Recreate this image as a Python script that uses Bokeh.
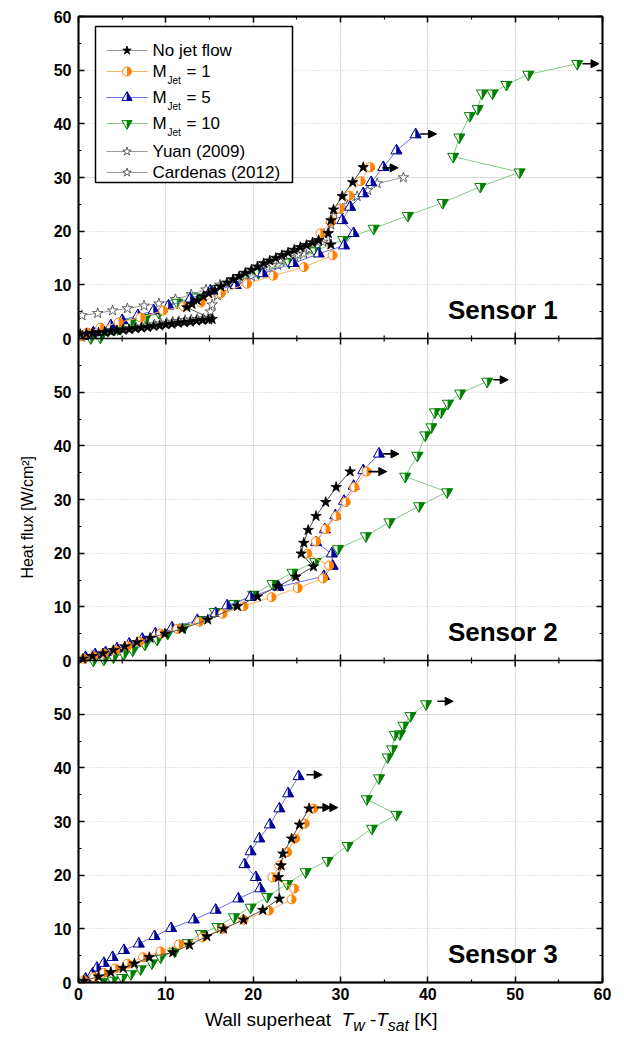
import numpy as np
from bokeh.plotting import figure
from bokeh.layouts import column
from bokeh.models import (Range1d, LinearAxis, FixedTicker, Grid, Label, Arrow, NormalHead,
                          CustomJSTickFormatter, ColumnDataSource, Span, Div)
from bokeh.transform import dodge
from bokeh.embed import file_html
from bokeh.resources import INLINE
from bokeh.core.properties import value

# ---------------- data ----------------
X_TICKS = [0, 10, 20, 30, 40, 50, 60]
X_MINOR = [5, 15, 25, 35, 45, 55]
PANEL_Y_TICKS = [0, 10, 20, 30, 40, 50]
TOP_Y_TICK = 60

SERIES_NAMES = ["No jet flow", "M_Jet = 1", "M_Jet = 5", "M_Jet = 10", "Yuan (2009)", "Cardenas (2012)"]
SENSOR_NAMES = ["Sensor 1", "Sensor 2", "Sensor 3"]

# Sensor 1
S1_NOJET_X = [0.2, 0.9, 1.6, 2.3, 3.0, 3.7, 4.4, 5.1, 5.8, 6.5, 7.2, 7.9, 8.6, 9.3, 10.0, 10.7, 11.4, 12.1,
              12.8, 13.5, 14.2, 14.9, 15.3, 12.4, 13.0, 13.6, 14.3, 14.9, 15.6, 16.3, 17.0, 17.7, 18.4, 19.1,
              19.8, 20.5, 21.2, 21.9, 22.6, 23.3, 24.0, 24.7, 25.4, 26.1, 26.8, 27.5, 28.9, 28.6, 28.9, 29.2,
              30.2, 31.4, 32.6]
S1_NOJET_Y = [0.8, 0.9, 1.0, 1.1, 1.2, 1.3, 1.5, 1.6, 1.7, 1.9, 2.0, 2.1, 2.3, 2.4, 2.6, 2.7, 2.9, 3.0,
              3.1, 3.3, 3.4, 3.5, 3.6, 5.8, 6.4, 7.1, 7.8, 8.4, 9.0, 9.7, 10.4, 11.0, 11.6, 12.2,
              12.8, 13.4, 14.0, 14.5, 15.0, 15.5, 16.0, 16.5, 17.0, 17.4, 17.9, 18.3, 17.5, 19.6, 22.0, 24.0,
              26.5, 29.1, 31.9]
S1_M1_X = [0.3, 1.0, 2.5, 4.6, 7.1, 9.7, 12.0, 14.0, 16.3, 19.3, 22.3, 25.8, 29.1, 27.7, 28.9, 29.9, 31.0, 32.3, 33.4]
S1_M1_Y = [0.4, 1.1, 2.0, 3.0, 3.9, 5.2, 6.0, 6.7, 8.4, 10.2, 11.7, 13.3, 15.5, 19.6, 21.8, 24.2, 26.6, 29.3, 31.9]
S1_M5_X = [0.5, 1.7, 3.7, 5.0, 6.8, 8.6, 10.3, 12.8, 15.1, 18.0, 21.1, 24.6, 27.5, 30.4, 31.5, 30.2, 31.1, 32.6,
           33.5, 34.9, 36.4, 38.6]
S1_M5_Y = [0.4, 1.1, 2.4, 3.4, 4.3, 5.2, 6.1, 7.4, 8.9, 9.9, 12.1, 14.0, 15.8, 17.3, 19.6, 22.0, 24.5, 27.0,
           29.1, 31.9, 35.0, 38.0]
S1_M10_X = [1.4, 2.5, 4.5, 6.0, 7.7, 9.2, 11.3, 13.6, 15.9, 20.6, 24.1, 27.1, 30.3, 33.8, 37.7, 41.7, 46.0, 50.5,
            42.9, 43.6, 44.8, 45.7, 46.2, 47.4, 49.0, 51.5, 57.1]
S1_M10_Y = [0.1, 0.2, 1.8, 3.0, 3.9, 4.8, 6.7, 7.7, 9.3, 12.2, 14.2, 16.3, 18.4, 20.5, 22.9, 25.3, 28.3, 31.0,
            33.9, 37.5, 41.5, 42.8, 45.7, 45.7, 47.3, 49.2, 51.2]
S1_YUAN_X = [0.4, 2.2, 3.9, 5.6, 7.5, 9.2, 11.1, 12.9, 14.6, 16.2, 17.7, 19.2, 20.7, 22.2, 23.7, 25.1, 26.4, 27.4,
             28.1, 28.9, 29.8, 30.8, 31.9, 33.1, 34.2, 37.2]
S1_YUAN_Y = [4.3, 4.7, 5.2, 5.6, 6.1, 6.5, 7.3, 8.2, 9.1, 10.0, 10.9, 11.8, 12.7, 13.6, 14.6, 15.6, 16.6, 18.0,
             19.5, 21.2, 23.0, 24.8, 26.5, 27.6, 28.9, 30.0]
S1_CARD_X = [0.3, 1.0, 1.7, 2.4, 3.1, 3.8, 4.5, 5.2, 5.9, 6.6, 7.3, 8.0, 8.7, 9.4, 10.1, 10.8, 11.5, 12.2, 12.9,
             13.6, 14.3, 15.0, 15.1, 15.3, 15.9, 16.8, 17.8, 18.8, 19.8, 20.8, 21.8, 22.8, 23.8, 24.8, 25.8,
             26.6, 27.3, 28.0]
S1_CARD_Y = [0.3, 0.5, 0.7, 0.9, 1.1, 1.3, 1.5, 1.7, 1.9, 2.0, 2.2, 2.4, 2.6, 2.8, 2.9, 3.1, 3.2, 3.4, 3.5,
             3.6, 3.7, 3.8, 5.0, 6.3, 8.0, 9.4, 10.2, 10.9, 11.6, 12.3, 13.0, 13.7, 14.4, 15.1, 15.8,
             16.5, 17.2, 18.0]

# Sensor 2
S2_NOJET_X = [0.5, 1.6, 2.8, 4.0, 5.3, 6.7, 8.2, 9.9, 11.9, 14.8, 18.2, 20.5, 22.8, 24.9, 26.9, 25.5, 25.8, 26.3,
              27.2, 28.3, 29.5, 31.1]
S2_NOJET_Y = [0.3, 0.8, 1.3, 1.9, 2.6, 3.4, 4.2, 5.0, 5.9, 7.6, 10.1, 11.9, 13.8, 15.6, 17.5, 19.9, 21.9, 24.3,
              26.9, 29.5, 32.3, 35.2]
S2_M1_X = [0.6, 1.7, 2.9, 4.2, 5.6, 7.0, 9.4, 11.3, 13.8, 16.5, 18.9, 22.1, 25.1, 28.0, 28.7, 26.2, 27.2, 28.3,
           29.5, 30.6, 31.6, 33.0]
S2_M1_Y = [0.3, 0.8, 1.3, 1.9, 2.7, 3.5, 5.0, 5.9, 7.2, 8.7, 10.1, 11.8, 13.5, 15.3, 17.7, 19.9, 22.2, 24.5,
           26.9, 29.5, 32.3, 35.2]
S2_M5_X = [0.8, 1.9, 3.1, 4.4, 5.8, 7.3, 8.8, 10.7, 13.6, 15.7, 17.0, 19.7, 22.9, 28.1, 29.1, 29.0, 27.2, 28.2,
           29.4, 30.4, 31.5, 32.6, 34.4]
S2_M5_Y = [0.6, 1.1, 1.5, 2.2, 3.1, 4.0, 5.0, 6.1, 7.5, 8.8, 10.2, 11.8, 13.7, 15.7, 17.6, 19.9, 22.0, 24.4,
           27.0, 29.7, 32.5, 35.4, 38.5]
S2_M10_X = [1.7, 2.9, 4.0, 5.2, 6.2, 7.6, 9.0, 10.2, 12.1, 14.0, 15.6, 17.8, 20.0, 22.2, 24.5, 27.1, 29.7, 32.9,
            35.6, 39.0, 42.2, 37.4, 38.8, 39.7, 40.4, 40.8, 41.5, 42.3, 43.7, 46.8]
S2_M10_Y = [0.0, 0.2, 0.6, 1.2, 1.9, 3.0, 3.9, 5.0, 6.2, 7.6, 9.1, 10.6, 12.3, 14.3, 16.4, 18.4, 20.8, 23.2,
            25.8, 28.8, 31.4, 34.3, 38.2, 42.0, 43.5, 46.3, 46.3, 47.9, 49.8, 52.0]

# Sensor 3
S3_NOJET_X = [0.6, 2.3, 3.7, 5.1, 6.4, 8.1, 10.8, 12.7, 14.7, 16.6, 18.9, 21.1, 23.0, 22.9, 23.2, 23.4, 24.4, 25.3, 26.4]
S3_NOJET_Y = [0.3, 1.1, 1.9, 2.7, 3.5, 4.7, 5.6, 7.0, 8.6, 10.0, 11.7, 13.5, 15.6, 19.6, 21.8, 24.0, 26.8, 29.4, 32.4]
S3_M1_X = [0.6, 1.8, 2.9, 4.2, 5.6, 7.4, 9.4, 11.5, 14.2, 16.5, 18.9, 21.8, 24.4, 24.7, 22.2, 23.0, 23.9, 24.8, 25.9, 26.9]
S3_M1_Y = [0.4, 1.0, 1.8, 2.6, 3.5, 4.7, 5.8, 7.1, 8.4, 10.0, 11.7, 13.4, 15.5, 17.5, 19.6, 21.8, 24.3, 26.8, 29.6, 32.4]
S3_M5_X = [0.8, 1.6, 2.1, 2.9, 3.9, 5.2, 6.9, 8.7, 10.6, 13.2, 15.7, 18.3, 20.8, 20.3, 19.0, 19.7, 20.7, 21.9,
           23.0, 24.0, 25.2]
S3_M5_Y = [0.7, 1.6, 2.7, 3.6, 4.7, 6.0, 7.2, 8.6, 10.1, 11.7, 13.5, 15.6, 17.5, 19.6, 22.0, 24.4, 26.8, 29.4,
           32.4, 35.2, 38.4]
S3_M10_X = [1.6, 2.7, 3.9, 5.0, 6.0, 7.1, 8.4, 9.4, 11.0, 12.5, 14.0, 15.9, 17.8, 19.7, 21.6, 23.9, 26.0, 28.5,
            30.8, 33.6, 36.4, 33.0, 34.4, 35.4, 35.9, 36.2, 36.8, 37.2, 38.0, 39.8]
S3_M10_Y = [0.0, 0.1, 0.4, 0.9, 1.6, 2.5, 3.6, 4.7, 5.8, 7.4, 9.1, 10.4, 12.2, 14.0, 16.0, 18.4, 20.6, 22.7,
            25.5, 28.7, 31.3, 34.2, 38.1, 42.0, 43.5, 46.2, 46.3, 47.9, 49.7, 51.9]

# CHF arrows: (x start, x end, heat flux)
S1_ARROWS = [(34.8, 36.6, 31.8), (39.1, 41.0, 38.1), (57.7, 59.6, 51.2)]
S2_ARROWS = [(33.2, 35.3, 35.2), (34.9, 36.7, 38.5), (47.5, 49.2, 52.3)]
S3_ARROWS = [(27.3, 28.9, 32.6), (27.3, 29.7, 32.6), (26.1, 27.9, 38.7), (41.1, 42.9, 52.4)]

# ---------------- styles ----------------
FONT = "Liberation Sans"
FW, FH = 524, 966
PANEL_SPAN = 60                       # each sensor panel spans 0..60 W/cm2
OFFSETS = [2 * PANEL_SPAN, PANEL_SPAN, 0]   # stacking offsets for sensors 1, 2, 3
KX, KY = 60.0 / FW, 3 * PANEL_SPAN / FH     # data units per pixel

C_BLACK, L_BLACK = "#000000", "#505050"
C_OR, L_OR = "#FF8000", "#FFB060"
C_BL, L_BL = "#00009A", "#6A6AF0"
C_GR, L_GR = "#008000", "#86C886"
C_LIT, L_LIT = "#3A3A3A", "#9A9A9A"
GRID_COLOR = "#cfcfcf"

p = figure(frame_width=FW, frame_height=FH, x_range=Range1d(0, 60), y_range=Range1d(0, 3 * PANEL_SPAN),
           output_backend="svg", toolbar_location=None, x_axis_location=None, y_axis_location=None,
           min_border_left=78, min_border_right=14, min_border_top=16, min_border_bottom=4)
p.outline_line_color = "black"
p.outline_line_width = 1.5
p.background_fill_color = "white"
p.border_fill_color = "white"

# ---- axes ----
all_y_major, all_y_minor, y_labels, y_grid = [], [], {}, []
for off in OFFSETS[::-1]:
    for t in PANEL_Y_TICKS:
        all_y_major.append(off + t)
        y_labels[off + t] = str(t)
        all_y_minor.append(off + t + 5)
        if t > 0:
            y_grid.append(off + t)
all_y_major.append(OFFSETS[0] + TOP_Y_TICK)
y_labels[OFFSETS[0] + TOP_Y_TICK] = str(TOP_Y_TICK)

xt = FixedTicker(ticks=X_TICKS, minor_ticks=X_MINOR)
yt = FixedTicker(ticks=all_y_major, minor_ticks=all_y_minor)


def style_axis(ax, labels):
    ax.axis_line_width = 1.8
    ax.axis_line_color = "black"
    ax.major_tick_line_color = "black"
    ax.minor_tick_line_color = "black"
    ax.major_tick_in = 6
    ax.major_tick_out = 0
    ax.minor_tick_in = 3
    ax.minor_tick_out = 0
    ax.major_tick_line_width = 1.5
    ax.minor_tick_line_width = 1.2
    if labels:
        ax.major_label_text_font = FONT
        ax.major_label_text_font_style = "bold"
        ax.major_label_text_font_size = "16px"
        ax.major_label_text_color = "black"
        ax.major_label_standoff = 7
    else:
        ax.formatter = CustomJSTickFormatter(code="return ''")
        ax.major_label_text_font_size = "0px"
        ax.major_label_standoff = 0


left = LinearAxis(ticker=yt, major_label_overrides=y_labels)
style_axis(left, True)
left.axis_label = "Heat flux [W/cm\u00b2]" + "\u00a0" * 8
left.axis_label_text_font = FONT
left.axis_label_text_font_style = "normal"
left.axis_label_text_font_size = "16px"
left.axis_label_text_color = "black"
left.axis_label_standoff = 15
p.add_layout(left, "left")
right = LinearAxis(ticker=yt)
style_axis(right, False)
p.add_layout(right, "right")
above = LinearAxis(ticker=xt)
style_axis(above, False)
p.add_layout(above, "above")
below = LinearAxis(ticker=xt)
style_axis(below, True)
below.major_label_standoff = 5
p.add_layout(below, "below")

p.add_layout(Grid(dimension=0, ticker=FixedTicker(ticks=X_TICKS[1:-1]), grid_line_color=GRID_COLOR,
                  grid_line_dash="1 2", grid_line_width=1))
p.add_layout(Grid(dimension=1, ticker=FixedTicker(ticks=y_grid), grid_line_color=GRID_COLOR,
                  grid_line_dash="1 2", grid_line_width=1))

# panel separators with inward ticks on both sides
for off in OFFSETS[:2]:
    p.add_layout(Span(location=off, dimension="width", line_color="black", line_width=1.5))
    p.segment(x0=X_TICKS[1:-1], x1=X_TICKS[1:-1], y0=[off - 6 * KY] * 5, y1=[off + 6 * KY] * 5,
              line_color="black", line_width=1.5)
    p.segment(x0=X_MINOR, x1=X_MINOR, y0=[off - 3 * KY] * 6, y1=[off + 3 * KY] * 6,
              line_color="black", line_width=1.2)


# ---- glyph helpers ----
def half_marker(src, xs, ys, off, kind, color, size):
    if kind == "circle":
        p.scatter(x="x", y=dodge("y", off), source=src, marker="circle", size=size, fill_color="white",
                  line_color=color, line_width=1)
        p.wedge(x="x", y=dodge("y", off), source=src, radius=size / 2.0, radius_units="screen",
                start_angle=-np.pi / 2, end_angle=np.pi / 2, fill_color=color, line_color=None)
        return
    r = size / 2.0
    a = r * np.sqrt(3) / 3.0
    sgn = 1 if kind == "up" else -1
    full_x, full_y, half_x, half_y = [], [], [], []
    for x, y in zip(xs, ys):
        apex = y + off + sgn * 2 * a * KY
        base = y + off - sgn * a * KY
        full_x.append([x - r * KX, x + r * KX, x])
        full_y.append([base, base, apex])
        half_x.append([x, x + r * KX, x])
        half_y.append([apex, base, base])
    p.patches(full_x, full_y, fill_color="white", line_color=color, line_width=1)
    p.patches(half_x, half_y, fill_color=color, line_color=color, line_width=0.6)


def markers(xs, ys, off, kind, mcolor, size):
    src = ColumnDataSource(dict(x=list(xs), y=list(ys)))
    if kind in ("star", "ostar"):
        fill = mcolor if kind == "star" else "white"
        p.scatter(x="x", y=dodge("y", off), source=src, marker="star", size=size, fill_color=fill,
                  line_color=mcolor, line_width=0.8)
    else:
        half_marker(src, xs, ys, off, kind, mcolor, size)


def series(xs, ys, off, kind, mcolor, lcolor, size):
    src = ColumnDataSource(dict(x=xs, y=ys))
    p.line(x="x", y=dodge("y", off), source=src, line_color=lcolor, line_width=1)
    markers(xs, ys, off, kind, mcolor, size)


def add_arrows(arrows, off):
    for x0, x1, y in arrows:
        p.add_layout(Arrow(end=NormalHead(size=8, fill_color="black", line_color="black", line_width=1),
                           x_start=x0, y_start=y + off, x_end=x1, y_end=y + off,
                           line_color="black", line_width=1.6))


def draw_sensor(data, arrows, name, off):
    (nx, ny), (ax_, ay), (bx, by), (gx, gy) = data
    series(gx, gy, off, "down", C_GR, L_GR, 11)
    series(bx, by, off, "up", C_BL, L_BL, 11)
    series(ax_, ay, off, "circle", C_OR, L_OR, 9)
    series(nx, ny, off, "star", C_BLACK, L_BLACK, 11)
    add_arrows(arrows, off)
    p.add_layout(Label(x=42.3, y=off + 5.4, text=name, text_font=FONT, text_font_style="bold",
                       text_font_size="26px", text_color="black", text_baseline="alphabetic"))


# ---- sensor 1 ----
o1 = OFFSETS[0]
series(S1_CARD_X, S1_CARD_Y, o1, "ostar", C_LIT, L_LIT, 11)
series(S1_YUAN_X, S1_YUAN_Y, o1, "ostar", C_LIT, L_LIT, 11)
draw_sensor([(S1_NOJET_X, S1_NOJET_Y), (S1_M1_X, S1_M1_Y), (S1_M5_X, S1_M5_Y), (S1_M10_X, S1_M10_Y)],
            S1_ARROWS, SENSOR_NAMES[0], o1)
# ---- sensor 2 ----
draw_sensor([(S2_NOJET_X, S2_NOJET_Y), (S2_M1_X, S2_M1_Y), (S2_M5_X, S2_M5_Y), (S2_M10_X, S2_M10_Y)],
            S2_ARROWS, SENSOR_NAMES[1], OFFSETS[1])
# ---- sensor 3 ----
draw_sensor([(S3_NOJET_X, S3_NOJET_Y), (S3_M1_X, S3_M1_Y), (S3_M5_X, S3_M5_Y), (S3_M10_X, S3_M10_Y)],
            S3_ARROWS, SENSOR_NAMES[2], OFFSETS[2])


# ---- legend (inside sensor-1 panel, laid out in pixels from the frame's top-left) ----
def px2x(px):
    return px * KX


def py2y(py):
    return 3 * PANEL_SPAN - py * KY


p.quad(left=px2x(17), right=px2x(214), top=py2y(10), bottom=py2y(166), fill_color="white",
       line_color="black", line_width=1.5)
row_py = [34, 55, 81, 107, 135, 156]
kinds = ["star", "circle", "up", "down", "ostar", "ostar"]
mcols = [C_BLACK, C_OR, C_BL, C_GR, C_LIT, C_LIT]
lcols = ["#9A9A9A", L_OR, L_BL, L_GR, L_LIT, L_LIT]
sizes = [9, 9, 10, 10, 9, 9]
for i, name in enumerate(SERIES_NAMES):
    yy = py2y(row_py[i])
    p.line([px2x(28), px2x(69)], [yy, yy], line_color=lcols[i], line_width=1)
    markers([px2x(48.5)], [yy], 0, kinds[i], mcols[i], sizes[i])
    if name.startswith("M_Jet"):
        rest = name.split("M_Jet")[1].strip()
        p.text([px2x(74)], [yy], text=["M"], text_font=value(FONT), text_font_size="17px",
               text_baseline="middle", text_color="black")
        p.text([px2x(89)], [yy - 9 * KY], text=["Jet"], text_font=value(FONT), text_font_size="10px",
               text_baseline="middle", text_color="black")
        p.text([px2x(108)], [yy], text=[rest], text_font=value(FONT), text_font_size="17px",
               text_baseline="middle", text_color="black")
    else:
        p.text([px2x(74)], [yy], text=[name], text_font=value(FONT), text_font_size="17px",
               text_baseline="middle", text_color="black")

# ---- x-axis title (HTML, for italic subscripts) ----
xlabel = Div(text="Wall superheat&nbsp; <i>T<sub>w</sub></i> -<i>T<sub>sat</sub></i> [K]",
             width=FW + 92, height=28,
             styles={"font-family": FONT, "font-size": "19px", "color": "black",
                     "padding-left": "200px", "padding-top": "2px", "line-height": "22px"})

layout = column(p, xlabel, spacing=0)
open("out.html", "w").write(file_html(layout, INLINE))
